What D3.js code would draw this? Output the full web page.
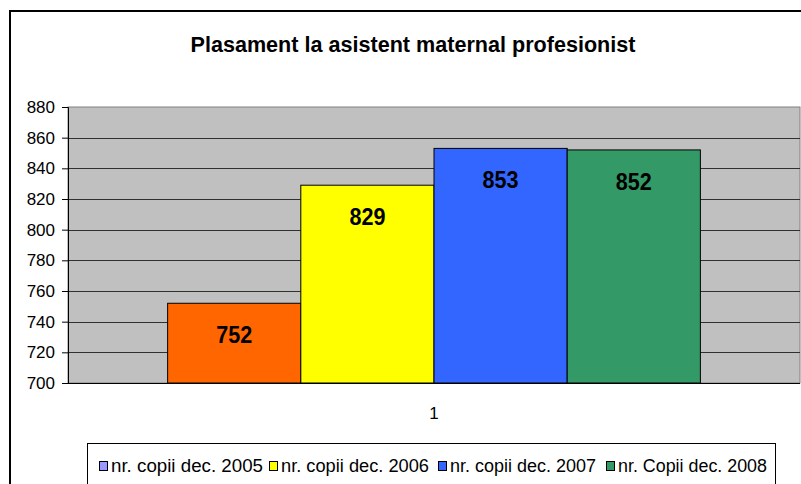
<!DOCTYPE html>
<html>
<head>
<meta charset="utf-8">
<script src="https://cdn.jsdelivr.net/npm/d3@7"></script>
<style>
  body { margin: 0; background: #fff; }
  svg { display: block; font-family: Arial, "Liberation Sans", sans-serif; }
</style>
</head>
<body>
<svg id="chart" width="801" height="484"></svg>
<script>
'use strict';

const categories = ["1"];
const seriesNames = ["nr. copii dec. 2005", "nr. copii dec. 2006", "nr. copii dec. 2007", "nr. Copii dec. 2008"];
const seriesValues = [752, 829, 853, 852];
const barColors = ["#ff6600", "#ffff00", "#3366ff", "#339966"];
const legendColors = ["#9999ff", "#ffff00", "#3366ff", "#339966"];
const yTicks = [700, 720, 740, 760, 780, 800, 820, 840, 860, 880];

const svg = d3.select("#chart");

// outer chart frame
svg.append("rect")
  .attr("x", 10).attr("y", 11)
  .attr("width", 800).attr("height", 490)
  .attr("fill", "#fff")
  .attr("stroke", "#000")
  .attr("stroke-width", 2);

svg.append("text")
  .attr("x", 413).attr("y", 52)
  .attr("text-anchor", "middle")
  .attr("font-size", 22.5)
  .attr("font-weight", "bold")
  .attr("textLength", 445)
  .attr("lengthAdjust", "spacingAndGlyphs")
  .text("Plasament la asistent maternal profesionist");

const plot = { left: 68, right: 800, top: 107, bottom: 383 };

const y = d3.scaleLinear()
  .domain([700, 880])
  .range([plot.bottom, plot.top]);

const x0 = d3.scaleBand()
  .domain(categories)
  .range([plot.left, plot.right])
  .paddingInner(0)
  .paddingOuter(0.187);

const x1 = d3.scaleBand()
  .domain(seriesNames)
  .range([0, x0.bandwidth()]);

// plot background
svg.append("rect")
  .attr("x", plot.left).attr("y", plot.top)
  .attr("width", plot.right - plot.left)
  .attr("height", plot.bottom - plot.top)
  .attr("fill", "#c0c0c0")
  .attr("stroke", "#808080")
  .attr("stroke-width", 1);

// gridlines
svg.append("g")
  .selectAll("line")
  .data(yTicks.slice(1, -1))
  .join("line")
  .attr("x1", plot.left).attr("x2", plot.right)
  .attr("y1", d => Math.round(y(d)) + 0.5)
  .attr("y2", d => Math.round(y(d)) + 0.5)
  .attr("stroke", "#303030")
  .attr("stroke-width", 1);

// bars
const grp = svg.append("g")
  .attr("transform", `translate(${x0(categories[0])},0)`);

grp.selectAll("rect")
  .data(seriesValues)
  .join("rect")
  .attr("x", (d, i) => x1(seriesNames[i]))
  .attr("y", d => y(d))
  .attr("width", x1.bandwidth())
  .attr("height", d => plot.bottom - y(d))
  .attr("fill", (d, i) => barColors[i])
  .attr("stroke", "#000")
  .attr("stroke-width", 1);

grp.selectAll("text")
  .data(seriesValues)
  .join("text")
  .attr("x", (d, i) => x1(seriesNames[i]) + x1.bandwidth() / 2)
  .attr("y", d => y(d) + 40)
  .attr("text-anchor", "middle")
  .attr("font-size", 24.5)
  .attr("font-weight", "bold")
  .attr("textLength", 36)
  .attr("lengthAdjust", "spacingAndGlyphs")
  .text(d => d);

// y axis
const yAxis = d3.axisLeft(y)
  .tickValues(yTicks)
  .tickSize(6)
  .tickFormat(d3.format("d"));

const ga = svg.append("g")
  .attr("transform", `translate(${plot.left},0)`)
  .call(yAxis);
ga.select(".domain").attr("stroke", "#000");
ga.selectAll(".tick line").attr("stroke", "#000");
ga.selectAll(".tick text")
  .attr("font-size", 17)
  .attr("font-family", "Arial, 'Liberation Sans', sans-serif")
  .attr("fill", "#000")
  .attr("x", -13);

// x axis
svg.append("line")
  .attr("x1", plot.left).attr("x2", plot.right)
  .attr("y1", plot.bottom + 0.5).attr("y2", plot.bottom + 0.5)
  .attr("stroke", "#000");

svg.append("g")
  .selectAll("text")
  .data(categories)
  .join("text")
  .attr("x", d => x0(d) + x0.bandwidth() / 2)
  .attr("y", 419)
  .attr("text-anchor", "middle")
  .attr("font-size", 17)
  .text(d => d);

// legend
svg.append("rect")
  .attr("x", 87.5).attr("y", 443.5)
  .attr("width", 688).attr("height", 60)
  .attr("fill", "#fff")
  .attr("stroke", "#000");

const legendX = [99, 269, 438, 606];
const legendW = [152, 148, 146, 149];
const lg = svg.append("g")
  .selectAll("g")
  .data(seriesNames)
  .join("g")
  .attr("transform", (d, i) => `translate(${legendX[i]},0)`);

lg.append("rect")
  .attr("x", 0.5).attr("y", 461.5)
  .attr("width", 8).attr("height", 9)
  .attr("fill", (d, i) => legendColors[i])
  .attr("stroke", "#000");

lg.append("text")
  .attr("x", 12).attr("y", 472)
  .attr("font-size", 18)
  .attr("textLength", (d, i) => legendW[i])
  .attr("lengthAdjust", "spacingAndGlyphs")
  .text(d => d);
</script>
</body>
</html>
